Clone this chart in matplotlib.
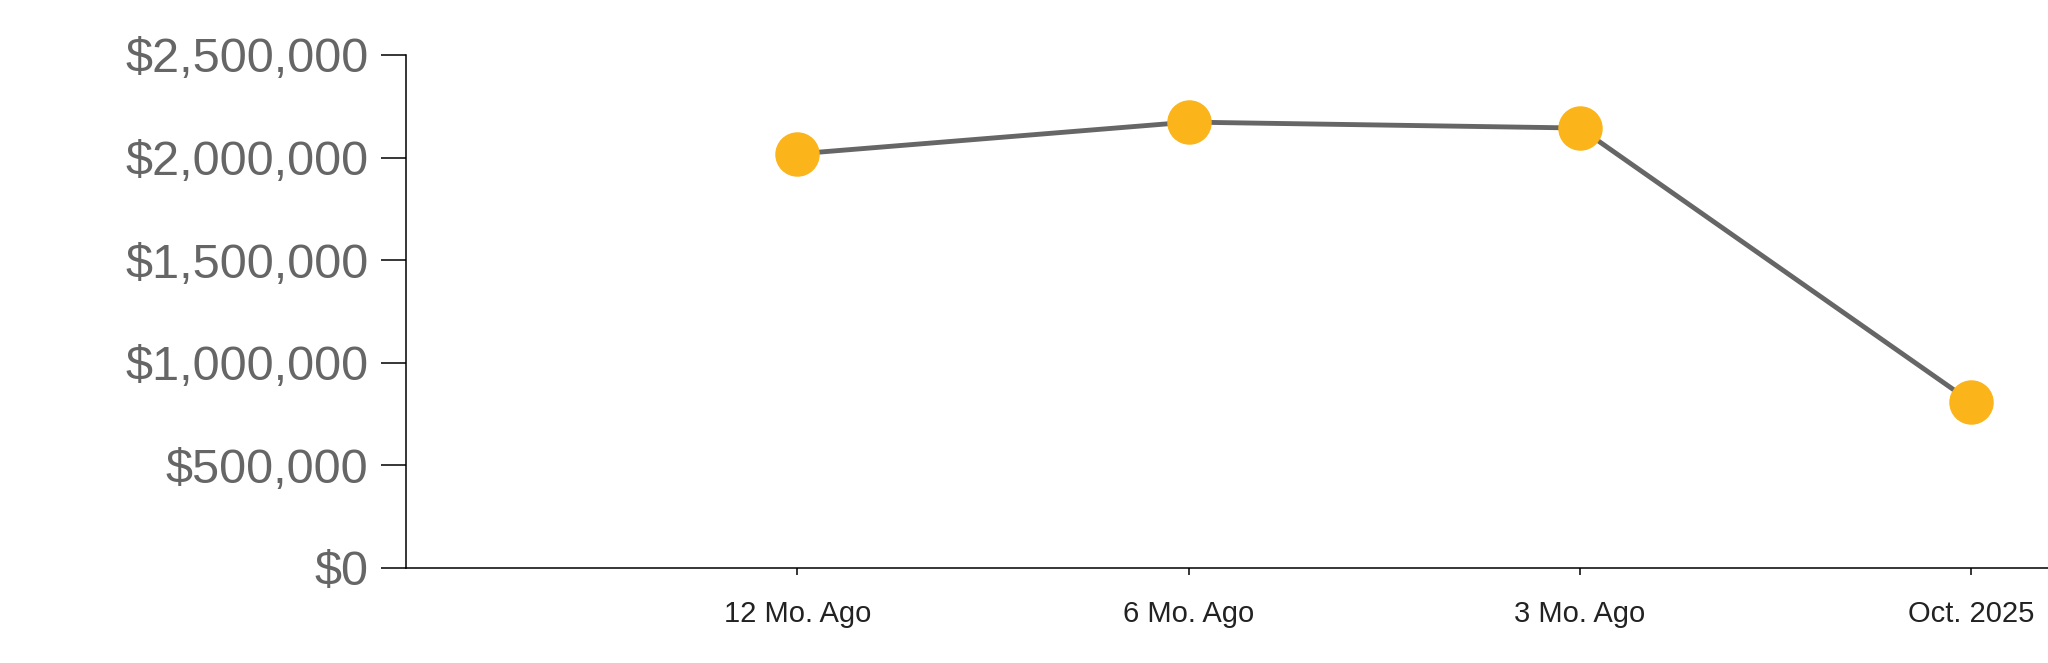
import matplotlib
matplotlib.use("Agg")
from matplotlib import pyplot as plt
from matplotlib.ticker import FuncFormatter

# data
periods = ["12 Mo. Ago", "6 Mo. Ago", "3 Mo. Ago", "Oct. 2025"]
values = [2018000, 2173000, 2144000, 809000]
yticks = [0, 500000, 1000000, 1500000, 2000000, 2500000]

plt.rcParams['font.family'] = ['Liberation Sans', 'DejaVu Sans']

fig = plt.figure(figsize=(20.48, 6.63), dpi=100)
ax = fig.add_axes([406 / 2048, 1 - 568 / 663, 1 - 406 / 2048, (568 - 55) / 663])

xs = list(range(1, len(periods) + 1))
ax.plot(xs, values, color='#666666', linewidth=3.5, zorder=2, solid_capstyle='butt')
ax.plot(xs, values, linestyle='none', marker='o', markersize=31,
        markerfacecolor='#fbb41a', markeredgecolor='#fbb41a', zorder=3)

ax.set_xlim(0, (2048 - 406) / 391.3)
ax.set_ylim(0, 2500000)
ax.set_xticks(xs)
ax.set_xticklabels(periods)
ax.set_yticks(yticks)
ax.yaxis.set_major_formatter(FuncFormatter(lambda v, p: "${:,.0f}".format(v)))

for s in ['top', 'right']:
    ax.spines[s].set_visible(False)
for s in ['left', 'bottom']:
    ax.spines[s].set_linewidth(1.1)
    ax.spines[s].set_color('black')

ax.tick_params(axis='y', length=18, width=1.1, pad=9, labelsize=35, labelcolor='#666666')
ax.tick_params(axis='x', length=5, width=1.1, pad=18, labelsize=21, labelcolor='#222222')

plt.savefig('out.png', format='png', dpi=100)
